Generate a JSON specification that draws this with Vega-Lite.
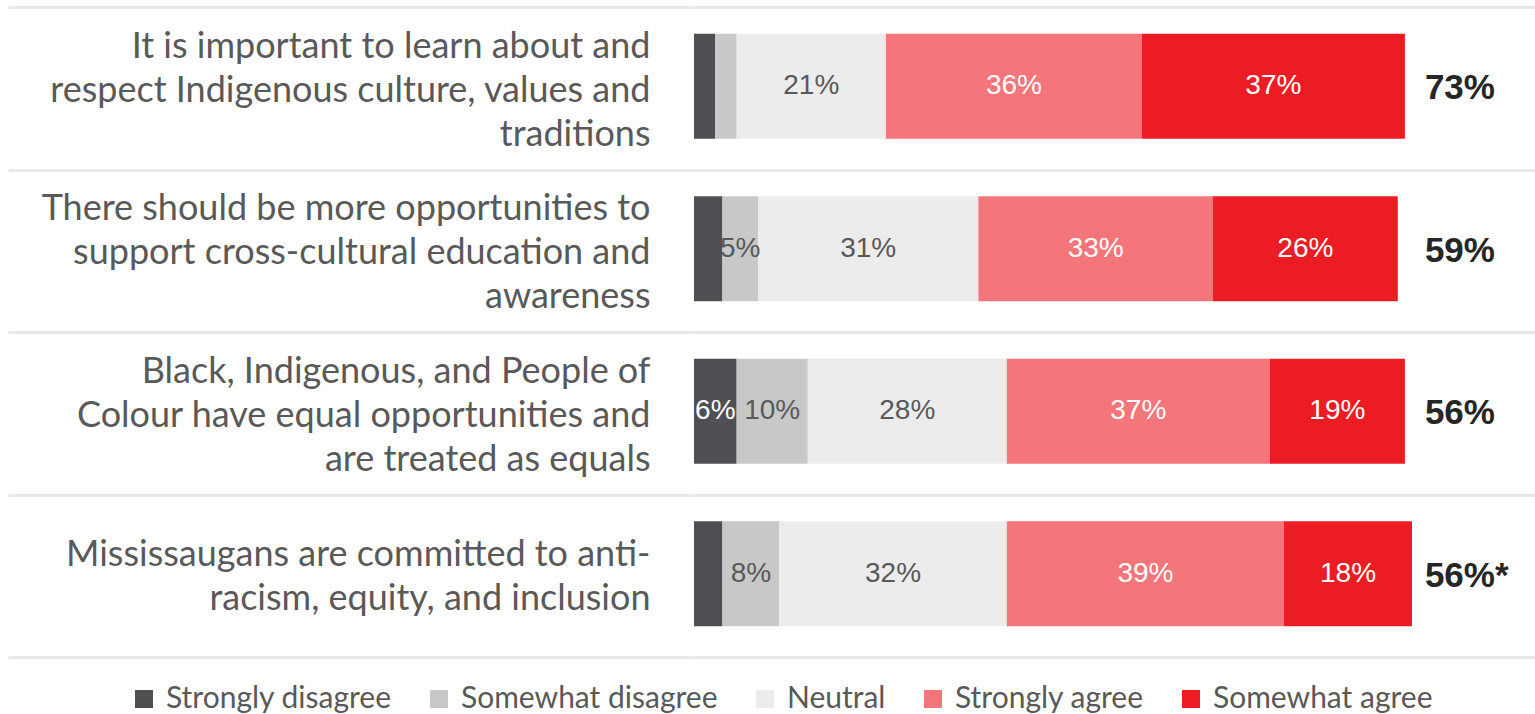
{
  "$schema": "https://vega.github.io/schema/vega-lite/v6.json",
  "width": 841,
  "height": 650,
  "autosize": {"type": "none"},
  "padding": {"left": 694, "top": 7, "right": 0, "bottom": 57},
  "background": "#ffffff",
  "config": {"view": {"stroke": null}, "font": "Lato"},
  "datasets": {
    "resp": [
      {"q": "It is important to learn about and|respect Indigenous culture, values and|traditions", "resp": "Strongly disagree", "value": 3},
      {"q": "It is important to learn about and|respect Indigenous culture, values and|traditions", "resp": "Somewhat disagree", "value": 3},
      {"q": "It is important to learn about and|respect Indigenous culture, values and|traditions", "resp": "Neutral", "value": 21},
      {"q": "It is important to learn about and|respect Indigenous culture, values and|traditions", "resp": "Strongly agree", "value": 36},
      {"q": "It is important to learn about and|respect Indigenous culture, values and|traditions", "resp": "Somewhat agree", "value": 37},
      {"q": "There should be more opportunities to|support cross-cultural education and|awareness", "resp": "Strongly disagree", "value": 4},
      {"q": "There should be more opportunities to|support cross-cultural education and|awareness", "resp": "Somewhat disagree", "value": 5},
      {"q": "There should be more opportunities to|support cross-cultural education and|awareness", "resp": "Neutral", "value": 31},
      {"q": "There should be more opportunities to|support cross-cultural education and|awareness", "resp": "Strongly agree", "value": 33},
      {"q": "There should be more opportunities to|support cross-cultural education and|awareness", "resp": "Somewhat agree", "value": 26},
      {"q": "Black, Indigenous, and People of|Colour have equal opportunities and|are treated as equals", "resp": "Strongly disagree", "value": 6},
      {"q": "Black, Indigenous, and People of|Colour have equal opportunities and|are treated as equals", "resp": "Somewhat disagree", "value": 10},
      {"q": "Black, Indigenous, and People of|Colour have equal opportunities and|are treated as equals", "resp": "Neutral", "value": 28},
      {"q": "Black, Indigenous, and People of|Colour have equal opportunities and|are treated as equals", "resp": "Strongly agree", "value": 37},
      {"q": "Black, Indigenous, and People of|Colour have equal opportunities and|are treated as equals", "resp": "Somewhat agree", "value": 19},
      {"q": "Mississaugans are committed to anti-|racism, equity, and inclusion", "resp": "Strongly disagree", "value": 4},
      {"q": "Mississaugans are committed to anti-|racism, equity, and inclusion", "resp": "Somewhat disagree", "value": 8},
      {"q": "Mississaugans are committed to anti-|racism, equity, and inclusion", "resp": "Neutral", "value": 32},
      {"q": "Mississaugans are committed to anti-|racism, equity, and inclusion", "resp": "Strongly agree", "value": 39},
      {"q": "Mississaugans are committed to anti-|racism, equity, and inclusion", "resp": "Somewhat agree", "value": 18}
    ],
    "totals": [
      {"q": "It is important to learn about and|respect Indigenous culture, values and|traditions", "total": "73%"},
      {"q": "There should be more opportunities to|support cross-cultural education and|awareness", "total": "59%"},
      {"q": "Black, Indigenous, and People of|Colour have equal opportunities and|are treated as equals", "total": "56%"},
      {"q": "Mississaugans are committed to anti-|racism, equity, and inclusion", "total": "56%*"}
    ]
  },
  "encoding": {
    "y": {
      "field": "q",
      "type": "nominal",
      "sort": [
        "It is important to learn about and|respect Indigenous culture, values and|traditions",
        "There should be more opportunities to|support cross-cultural education and|awareness",
        "Black, Indigenous, and People of|Colour have equal opportunities and|are treated as equals",
        "Mississaugans are committed to anti-|racism, equity, and inclusion"
      ],
      "scale": {"paddingInner": 0, "paddingOuter": 0},
      "axis": {
        "title": null,
        "domain": false,
        "tickBand": "extent",
        "ticks": true,
        "tickSize": 686,
        "tickColor": "#e8e8e8",
        "tickWidth": 3,
        "grid": true,
        "gridColor": "#e8e8e8",
        "gridWidth": 3,
        "labelPadding": -642,
        "labelExpr": "split(datum.label, '|')",
        "labelFont": "Lato",
        "labelFontSize": 36,
        "labelColor": "#595959",
        "labelLimit": 0,
        "labelLineHeight": 44,
        "labelAlign": "right",
        "labelBaseline": "middle",
        "labelOffset": {"condition": {"test": "datum.value === 'Mississaugans are committed to anti-|racism, equity, and inclusion'", "value": -21}, "value": -42}
      }
    }
  },
  "layer": [
    {
      "data": {"name": "resp"},
      "transform": [
        {"calculate": "indexof(['Strongly disagree','Somewhat disagree','Neutral','Strongly agree','Somewhat agree'], datum.resp)", "as": "rank"}
      ],
      "mark": {"type": "bar", "height": {"band": 0.645}, "yOffset": -2},
      "encoding": {
        "x": {"field": "value", "type": "quantitative", "stack": "zero", "scale": {"domain": [0, 118.3], "nice": false, "zero": true}, "axis": null},
        "color": {
          "field": "resp",
          "type": "nominal",
          "scale": {
            "domain": ["Strongly disagree", "Somewhat disagree", "Neutral", "Strongly agree", "Somewhat agree"],
            "range": ["#505054", "#c8c8c8", "#ececec", "#f4757a", "#ec1c24"]
          },
          "legend": {
            "orient": "none",
            "legendX": -565,
            "legendY": 677,
            "direction": "horizontal",
            "title": null,
            "symbolType": "square",
            "symbolSize": 324,
            "symbolStrokeWidth": 0,
            "labelFont": "Lato",
            "labelFontSize": 30,
            "labelColor": "#595959",
            "labelOffset": 7,
            "labelLimit": 0,
            "columnPadding": 32
          }
        },
        "order": {"field": "rank"}
      }
    },
    {
      "data": {"name": "resp"},
      "transform": [
        {"calculate": "indexof(['Strongly disagree','Somewhat disagree','Neutral','Strongly agree','Somewhat agree'], datum.resp)", "as": "rank"},
        {"stack": "value", "groupby": ["q"], "sort": [{"field": "rank"}], "as": ["x0", "x1"]},
        {"filter": "datum.value >= 5"},
        {"calculate": "(datum.x0 + datum.x1) / 2", "as": "mid"},
        {"calculate": "datum.value + '%'", "as": "label"}
      ],
      "mark": {"type": "text", "font": "Liberation Sans", "fontSize": 28, "baseline": "middle", "align": "center", "yOffset": -2},
      "encoding": {
        "x": {"field": "mid", "type": "quantitative"},
        "text": {"field": "label"},
        "color": {
          "condition": {"test": "datum.resp === 'Somewhat disagree' || datum.resp === 'Neutral'", "value": "#595959"},
          "value": "#ffffff"
        }
      }
    },
    {
      "data": {"name": "totals"},
      "mark": {"type": "text", "font": "Liberation Sans", "fontSize": 35, "fontWeight": "bold", "align": "left", "baseline": "middle", "dx": 20, "color": "#262626"},
      "encoding": {
        "x": {"datum": 100, "type": "quantitative"},
        "text": {"field": "total"}
      }
    }
  ]
}
